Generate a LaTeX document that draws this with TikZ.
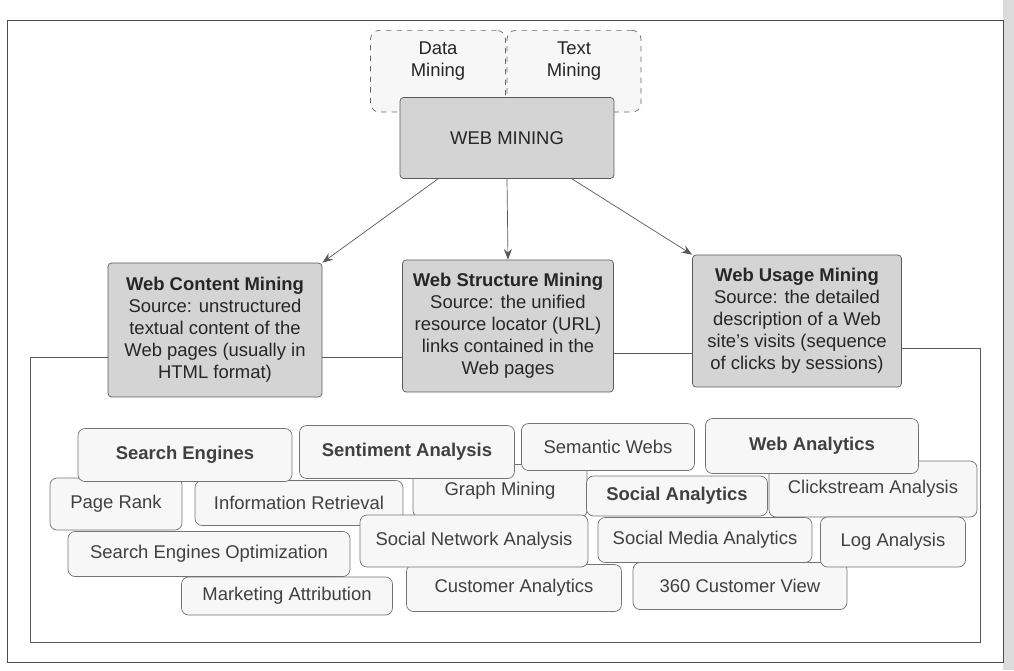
\documentclass[tikz,border=0pt]{standalone}
\usepackage{fontspec}
\setmainfont{Liberation Sans}
\usetikzlibrary{arrows.meta,positioning}

\begin{document}
\begin{tikzpicture}[
    x=0.02cm,y=-0.02cm,
    font=\fontsize{10.5}{12.5}\selectfont,
    mainbox/.style={rectangle,draw=black!65,fill=black!17,rounded corners=2pt,align=center,inner sep=0pt,text=black!85},
    srcbox/.style={rectangle,draw=black!60,fill=black!3,dashed,rounded corners=5pt,align=center,inner sep=0pt,text=black!85,text height=26pt,text depth=20.5pt},
    tag/.style={rectangle,draw=black!55,fill=black!3,rounded corners=4pt,inner sep=0pt,text=black!75},
    arr/.style={-{Stealth[length=6pt]},black!65},
    link/.style={black!65}
  ]
  \useasboundingbox (0,0) rectangle (1014,670);
  \fill[black!14] (1003,0) rectangle (1014,670);
  \draw[black!70] (7,20) rectangle (1003,662);

  %% sources
  \node[srcbox,anchor=north,minimum width=2.7cm] (dm) at (438,30) {Data\\Mining};
  \node[srcbox,anchor=north,minimum width=2.68cm] (tm) at (574,30) {Text\\Mining};

  %% web mining
  \node[mainbox,minimum width=4.28cm,minimum height=1.62cm] (wm) at (507,138) {WEB MINING};

  %% the three kinds
  \node[mainbox,minimum width=4.28cm,minimum height=2.68cm] (wcm) at (215,330)
    {\textbf{Web Content Mining}\\Source: unstructured\\textual content of the\\Web pages (usually in\\HTML format)};
  \node[mainbox,minimum width=4.22cm,minimum height=2.64cm] (wsm) at (508,326)
    {\textbf{Web Structure Mining}\\Source: the unified\\resource locator (URL)\\links contained in the\\Web pages};
  \node[mainbox,minimum width=4.18cm,minimum height=2.64cm] (wum) at (797,321)
    {\textbf{Web Usage Mining}\\Source: the detailed\\description of a Web\\site's visits (sequence\\of clicks by sessions)};

  \draw[arr] ([xshift=-1.38cm]wm.south) -- (wcm.north east);
  \draw[arr] (wm.south) -- (wsm.north);
  \draw[arr] ([xshift=1.3cm]wm.south) -- (wum.north west);

  %% frame round the applications
  \coordinate (l1) at (0,357);
  \coordinate (l2) at (0,353);
  \coordinate (l3) at (0,348);
  \draw[link] (wcm.east |- l1) -- (wsm.west |- l1);
  \draw[link] (wsm.east |- l2) -- (wum.west |- l2);
  \draw[link] (wcm.west |- l1) -- (30,357) -- (30,642) -- (980,642) -- (980,348) -- (wum.east |- l3);

  %% applications, row 4
  \node[tag,minimum width=4.22cm,minimum height=0.76cm] (ma) at (287,596) {Marketing Attribution};
  \node[tag,minimum width=4.3cm,minimum height=0.94cm] (ca) at (514,588) {Customer Analytics};
  \node[tag,minimum width=4.28cm,minimum height=0.94cm] (cv) at (740,586) {360 Customer View};

  %% row 2
  \node[tag,minimum width=2.64cm,minimum height=1.04cm] (pr) at (116,504) {Page Rank};
  \node[tag,minimum width=4.16cm,minimum height=0.9cm] (ir) at (299,503) {Information Retrieval};
  \node[tag,minimum width=3.48cm,minimum height=1.06cm] (gm) at (500,491) {Graph Mining};
  \node[tag,minimum width=3.62cm,minimum height=0.8cm] (soa) at (677,496) {\textbf{Social Analytics}};
  \node[tag,minimum width=4.16cm,minimum height=1.12cm] (csa) at (873,489) {Clickstream Analysis};

  %% row 3
  \node[tag,minimum width=5.64cm,minimum height=0.9cm] (seo) at (209,554) {Search Engines Optimization};
  \node[tag,minimum width=4.56cm,minimum height=1.04cm] (sna) at (474,541) {Social Network Analysis};
  \node[tag,minimum width=4.28cm,minimum height=0.9cm] (sma) at (705,540) {Social Media Analytics};
  \node[tag,minimum width=2.9cm,minimum height=1cm] (la) at (893,542) {Log Analysis};

  %% row 1
  \node[tag,minimum width=4.28cm,minimum height=1.06cm] (se) at (185,455) {\textbf{Search Engines}};
  \node[tag,minimum width=4.3cm,minimum height=1.06cm] (sa) at (407,452) {\textbf{Sentiment Analysis}};
  \node[tag,minimum width=3.46cm,minimum height=0.94cm] (sw) at (608,447) {Semantic Webs};
  \node[tag,minimum width=4.26cm,minimum height=1.1cm] (wa) at (812,446) {\textbf{Web Analytics}};
\end{tikzpicture}
\end{document}
